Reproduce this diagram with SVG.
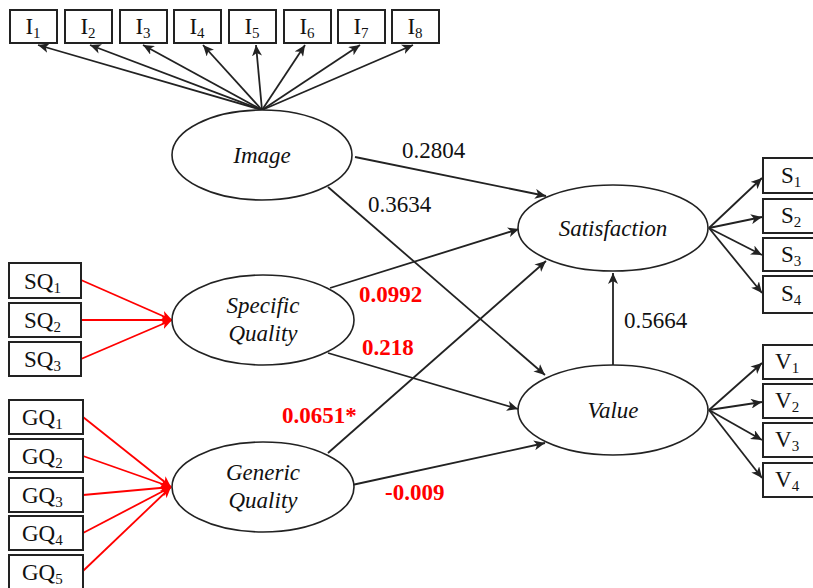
<svg xmlns="http://www.w3.org/2000/svg" width="813" height="588" viewBox="0 0 813 588">
<style>
.box{fill:#fff;stroke:#222;stroke-width:2}
.lat{fill:#fff;stroke:#222;stroke-width:1.6}
.bl{font-family:"Liberation Serif",serif;font-size:23px;fill:#111}
.sub{font-size:15px}
.lt{font-family:"Liberation Serif",serif;font-size:23px;font-style:italic;fill:#111;text-anchor:middle}
.num{font-family:"Liberation Serif",serif;font-size:23px;fill:#111}
.red{font-family:"Liberation Serif",serif;font-size:23px;font-weight:bold;fill:#f00}
.k{stroke:#222;stroke-width:1.8;fill:none;marker-end:url(#ak)}
.r{stroke:#f00;stroke-width:1.8;fill:none;marker-end:url(#ar)}
</style>
<defs>
<marker id="ak" markerUnits="userSpaceOnUse" markerWidth="12" markerHeight="10" refX="11" refY="5" orient="auto"><path d="M0,0 L11,5 L0,10 L3,5 z" fill="#222"/></marker>
<marker id="ar" markerUnits="userSpaceOnUse" markerWidth="12" markerHeight="10" refX="11" refY="5" orient="auto"><path d="M0,0 L11,5 L0,10 L3,5 z" fill="#f00"/></marker>
</defs>
<g id="connectors">
<line class="k" x1="262" y1="110" x2="38" y2="45"/>
<line class="k" x1="262" y1="110" x2="90" y2="45"/>
<line class="k" x1="262" y1="110" x2="143" y2="45"/>
<line class="k" x1="262" y1="110" x2="203" y2="45"/>
<line class="k" x1="262" y1="110" x2="256" y2="45"/>
<line class="k" x1="262" y1="110" x2="305" y2="45"/>
<line class="k" x1="262" y1="110" x2="360" y2="45"/>
<line class="k" x1="262" y1="110" x2="413" y2="45"/>
<line class="r" x1="81" y1="280" x2="172" y2="320"/>
<line class="r" x1="81" y1="320" x2="172" y2="320"/>
<line class="r" x1="81" y1="359" x2="172" y2="320"/>
<line class="r" x1="83" y1="417" x2="171" y2="487"/>
<line class="r" x1="83" y1="456" x2="171" y2="487"/>
<line class="r" x1="83" y1="495" x2="171" y2="487"/>
<line class="r" x1="83" y1="533" x2="171" y2="487"/>
<line class="r" x1="83" y1="571" x2="171" y2="487"/>
<line class="k" x1="355" y1="157" x2="546" y2="196"/>
<line class="k" x1="328" y1="187" x2="545" y2="375"/>
<line class="k" x1="330" y1="288" x2="519" y2="229"/>
<line class="k" x1="328" y1="353" x2="518" y2="409"/>
<line class="k" x1="328" y1="453" x2="546" y2="261"/>
<line class="k" x1="352" y1="485" x2="545" y2="443"/>
<line class="k" x1="613" y1="365" x2="613" y2="273"/>
<line class="k" x1="709" y1="228" x2="762" y2="178"/>
<line class="k" x1="709" y1="228" x2="762" y2="217"/>
<line class="k" x1="709" y1="228" x2="762" y2="255"/>
<line class="k" x1="709" y1="228" x2="762" y2="293"/>
<line class="k" x1="709" y1="410" x2="762" y2="363"/>
<line class="k" x1="709" y1="410" x2="762" y2="402"/>
<line class="k" x1="709" y1="410" x2="762" y2="440"/>
<line class="k" x1="709" y1="410" x2="762" y2="478"/>
</g>
<g id="I1"><rect class="box" x="10" y="10" width="47" height="33"/><text class="bl" x="33" y="34" text-anchor="middle">I<tspan class="sub" dy="4">1</tspan></text></g>
<g id="I2"><rect class="box" x="65" y="10" width="47" height="33"/><text class="bl" x="88" y="34" text-anchor="middle">I<tspan class="sub" dy="4">2</tspan></text></g>
<g id="I3"><rect class="box" x="120" y="10" width="47" height="33"/><text class="bl" x="143" y="34" text-anchor="middle">I<tspan class="sub" dy="4">3</tspan></text></g>
<g id="I4"><rect class="box" x="174" y="10" width="47" height="33"/><text class="bl" x="197" y="34" text-anchor="middle">I<tspan class="sub" dy="4">4</tspan></text></g>
<g id="I5"><rect class="box" x="229" y="10" width="47" height="33"/><text class="bl" x="252" y="34" text-anchor="middle">I<tspan class="sub" dy="4">5</tspan></text></g>
<g id="I6"><rect class="box" x="284" y="10" width="47" height="33"/><text class="bl" x="307" y="34" text-anchor="middle">I<tspan class="sub" dy="4">6</tspan></text></g>
<g id="I7"><rect class="box" x="338" y="10" width="47" height="33"/><text class="bl" x="361" y="34" text-anchor="middle">I<tspan class="sub" dy="4">7</tspan></text></g>
<g id="I8"><rect class="box" x="392" y="10" width="47" height="33"/><text class="bl" x="415" y="34" text-anchor="middle">I<tspan class="sub" dy="4">8</tspan></text></g>
<g id="SQ1"><rect class="box" x="9" y="263" width="72" height="35"/><text class="bl" x="24" y="289">SQ<tspan class="sub" dy="4">1</tspan></text></g>
<g id="SQ2"><rect class="box" x="9" y="303" width="72" height="34"/><text class="bl" x="24" y="328">SQ<tspan class="sub" dy="4">2</tspan></text></g>
<g id="SQ3"><rect class="box" x="9" y="342" width="72" height="34"/><text class="bl" x="24" y="367">SQ<tspan class="sub" dy="4">3</tspan></text></g>
<g id="GQ1"><rect class="box" x="9" y="400" width="74" height="34"/><text class="bl" x="22" y="425">GQ<tspan class="sub" dy="4">1</tspan></text></g>
<g id="GQ2"><rect class="box" x="9" y="439" width="74" height="33"/><text class="bl" x="22" y="464">GQ<tspan class="sub" dy="4">2</tspan></text></g>
<g id="GQ3"><rect class="box" x="9" y="478" width="74" height="34"/><text class="bl" x="22" y="503">GQ<tspan class="sub" dy="4">3</tspan></text></g>
<g id="GQ4"><rect class="box" x="9" y="516" width="74" height="34"/><text class="bl" x="22" y="541">GQ<tspan class="sub" dy="4">4</tspan></text></g>
<g id="GQ5"><rect class="box" x="9" y="555" width="74" height="40"/><text class="bl" x="22" y="580">GQ<tspan class="sub" dy="4">5</tspan></text></g>
<g id="S1"><rect class="box" x="763" y="158" width="60" height="35"/><text class="bl" x="781" y="183">S<tspan class="sub" dy="4">1</tspan></text></g>
<g id="S2"><rect class="box" x="763" y="199" width="60" height="34"/><text class="bl" x="781" y="223">S<tspan class="sub" dy="4">2</tspan></text></g>
<g id="S3"><rect class="box" x="763" y="238" width="60" height="33"/><text class="bl" x="781" y="262">S<tspan class="sub" dy="4">3</tspan></text></g>
<g id="S4"><rect class="box" x="763" y="276" width="60" height="37"/><text class="bl" x="781" y="301">S<tspan class="sub" dy="4">4</tspan></text></g>
<g id="V1"><rect class="box" x="763" y="345" width="60" height="34"/><text class="bl" x="775" y="369">V<tspan class="sub" dy="4">1</tspan></text></g>
<g id="V2"><rect class="box" x="763" y="384" width="60" height="34"/><text class="bl" x="775" y="408">V<tspan class="sub" dy="4">2</tspan></text></g>
<g id="V3"><rect class="box" x="763" y="423" width="60" height="34"/><text class="bl" x="775" y="447">V<tspan class="sub" dy="4">3</tspan></text></g>
<g id="V4"><rect class="box" x="763" y="463" width="60" height="34"/><text class="bl" x="775" y="487">V<tspan class="sub" dy="4">4</tspan></text></g>
<g id="Image"><ellipse class="lat" cx="262" cy="155" rx="90" ry="45"/><text class="lt" x="262" y="163">Image</text></g>
<g id="SpecificQuality"><ellipse class="lat" cx="263" cy="320" rx="91" ry="45"/><text class="lt" x="263" y="313">Specific</text><text class="lt" x="263" y="341">Quality</text></g>
<g id="GenericQuality"><ellipse class="lat" cx="263" cy="487" rx="91" ry="45"/><text class="lt" x="263" y="480">Generic</text><text class="lt" x="263" y="508">Quality</text></g>
<g id="Satisfaction"><ellipse class="lat" cx="613" cy="228" rx="95" ry="43"/><text class="lt" x="613" y="236">Satisfaction</text></g>
<g id="Value"><ellipse class="lat" cx="613" cy="410" rx="95" ry="45"/><text class="lt" x="613" y="418">Value</text></g>
<g id="labels">
<text class="num" x="402" y="158">0.2804</text>
<text class="num" x="368" y="212">0.3634</text>
<text class="num" x="624" y="328">0.5664</text>
<text class="red" x="359" y="302">0.0992</text>
<text class="red" x="362" y="355">0.218</text>
<text class="red" x="282" y="423">0.0651*</text>
<text class="red" x="385" y="500">-0.009</text>
</g>
</svg>
